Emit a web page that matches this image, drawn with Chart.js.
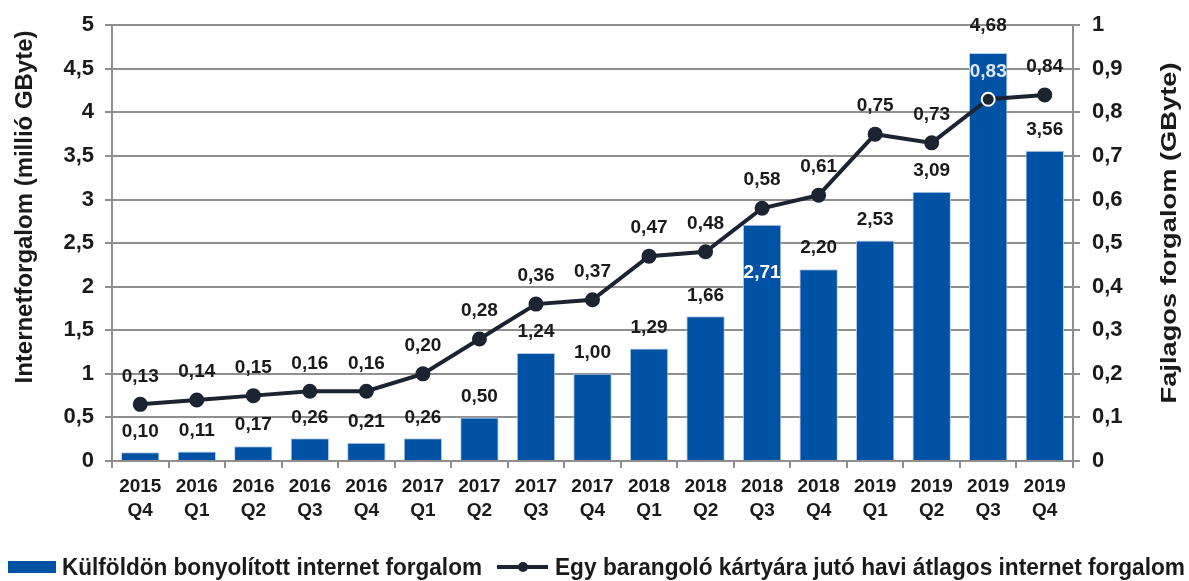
<!DOCTYPE html>
<html>
<head>
<meta charset="utf-8">
<script src="https://cdn.jsdelivr.net/npm/chart.js@4/dist/chart.umd.min.js"></script>
<style>
html,body{margin:0;padding:0;background:#fff;}
#wrap{width:1189px;height:581px;position:relative;}
</style>
</head>
<body>
<div id="wrap"><canvas id="c" width="1189" height="581"></canvas></div>
<script>
const categories = [
  ["2015","Q4"],["2016","Q1"],["2016","Q2"],["2016","Q3"],["2016","Q4"],
  ["2017","Q1"],["2017","Q2"],["2017","Q3"],["2017","Q4"],
  ["2018","Q1"],["2018","Q2"],["2018","Q3"],["2018","Q4"],
  ["2019","Q1"],["2019","Q2"],["2019","Q3"],["2019","Q4"]
];
const trafficMillionGB = [0.10,0.11,0.17,0.26,0.21,0.26,0.50,1.24,1.00,1.29,1.66,2.71,2.20,2.53,3.09,4.68,3.56];
const perCardGB = [0.13,0.14,0.15,0.16,0.16,0.20,0.28,0.36,0.37,0.47,0.48,0.58,0.61,0.75,0.73,0.83,0.84];
const seriesNames = ["Külföldön bonyolított internet forgalom","Egy barangoló kártyára jutó havi átlagos internet forgalom"];
const leftTitle = "Internetforgalom (millió GByte)";
const rightTitle = "Fajlagos forgalom (GByte)";

const BAR = '#0052a4';
const LINE = '#1c2331';
const GRID = '#8f8f8f';
const TXT = '#1a1a1a';
const FONT = "'Liberation Sans', Arial, sans-serif";
const fmt = v => v.toFixed(2).replace('.', ',');
const fmtTick = v => String(Math.round(v*10)/10).replace('.', ',');

// draw text stretched along its length to fit a target length
function fitText(ctx, text, x, y, targetLen, rot) {
  const w = ctx.measureText(text).width;
  ctx.save();
  ctx.translate(x, y);
  if (rot) ctx.rotate(rot);
  ctx.scale(targetLen / w, 1);
  ctx.fillText(text, 0, 0);
  ctx.restore();
}

const labelPlugin = {
  id: 'labels',
  afterDatasetsDraw(chart) {
    const ctx = chart.ctx;
    ctx.save();
    ctx.font = "bold 19px " + FONT;
    ctx.textAlign = 'center';
    ctx.textBaseline = 'middle';
    const barMeta = chart.getDatasetMeta(0);
    const lineMeta = chart.getDatasetMeta(1);
    barMeta.data.forEach((el, i) => {
      const v = trafficMillionGB[i];
      let y = el.y - 21, col = TXT;
      if (i === 11) { y = el.y + 48; col = '#ffffff'; }
      if (i === 15) { y = el.y - 27; }
      ctx.fillStyle = col;
      ctx.fillText(fmt(v), el.x, y);
    });
    lineMeta.data.forEach((el, i) => {
      const v = perCardGB[i];
      ctx.fillStyle = i === 15 ? '#dfe8f5' : TXT;
      ctx.fillText(fmt(v), el.x, el.y - 28);
    });
    ctx.restore();
  },
  afterDraw(chart) {
    const ctx = chart.ctx;
    ctx.save();
    ctx.fillStyle = TXT;
    ctx.textBaseline = 'alphabetic';
    // axis titles, both read bottom to top
    ctx.textAlign = 'center';
    ctx.font = "bold 24px " + FONT;
    fitText(ctx, leftTitle, 32, 207, 353, -Math.PI/2);
    ctx.font = "bold 22px " + FONT;
    fitText(ctx, rightTitle, 1176, 233, 341, -Math.PI/2);
    // legend
    const ly = 567;
    ctx.fillStyle = BAR;
    ctx.fillRect(8, ly - 6, 48, 12);
    ctx.fillStyle = TXT;
    ctx.textAlign = 'left';
    ctx.font = "bold 23px " + FONT;
    fitText(ctx, seriesNames[0], 62, ly + 8, 420, 0);
    ctx.strokeStyle = LINE; ctx.lineWidth = 4;
    ctx.beginPath(); ctx.moveTo(497, ly); ctx.lineTo(548, ly); ctx.stroke();
    ctx.fillStyle = LINE;
    ctx.beginPath(); ctx.arc(523, ly, 5, 0, Math.PI*2); ctx.fill();
    ctx.fillStyle = TXT;
    fitText(ctx, seriesNames[1], 555, ly + 8, 630, 0);
    ctx.restore();
  }
};

new Chart(document.getElementById('c'), {
  data: {
    labels: categories,
    datasets: [
      {
        type: 'bar', label: seriesNames[0], data: trafficMillionGB, yAxisID: 'y',
        backgroundColor: BAR, borderColor: '#b9cdea', borderWidth: 1,
        categoryPercentage: 1, barPercentage: 0.68, order: 2
      },
      {
        type: 'line', label: seriesNames[1], data: perCardGB, yAxisID: 'y1',
        borderColor: LINE, borderWidth: 4, tension: 0,
        pointRadius: 6.5, pointBackgroundColor: LINE,
        pointBorderColor: perCardGB.map((v,i) => i === 15 ? '#ffffff' : LINE),
        pointBorderWidth: 2, order: 1
      }
    ]
  },
  options: {
    responsive: false,
    animation: false,
    layout: { padding: { top: 22, left: 0, right: 0, bottom: 0 } },
    plugins: { legend: { display: false }, tooltip: { enabled: false } },
    scales: {
      x: {
        grid: { display: true, drawOnChartArea: false, drawTicks: true, tickLength: 7, color: GRID, lineWidth: 2, offset: true },
        border: { color: GRID, width: 2 },
        ticks: { color: TXT, font: { family: FONT, size: 19, weight: 'bold', lineHeight: 1.25 }, padding: 7, maxRotation: 0, autoSkip: false },
        afterFit(s) { s.height = 120; }
      },
      y: {
        position: 'left', min: 0, max: 5,
        grid: { color: GRID, lineWidth: 2, tickLength: 7 },
        border: { color: GRID, width: 2 },
        ticks: { stepSize: 0.5, color: TXT, padding: 11, font: { family: FONT, size: 22, weight: 'bold' }, callback: v => fmtTick(v) },
        afterFit(s) { s.width = 112; }
      },
      y1: {
        position: 'right', min: 0, max: 1,
        grid: { drawOnChartArea: false, color: GRID, lineWidth: 2, tickLength: 7 },
        border: { color: GRID, width: 2 },
        ticks: { stepSize: 0.1, color: TXT, padding: 12, font: { family: FONT, size: 22, weight: 'bold' }, callback: v => fmtTick(v) },
        afterFit(s) { s.width = 116; }
      }
    }
  },
  plugins: [labelPlugin]
});
</script>
</body>
</html>
